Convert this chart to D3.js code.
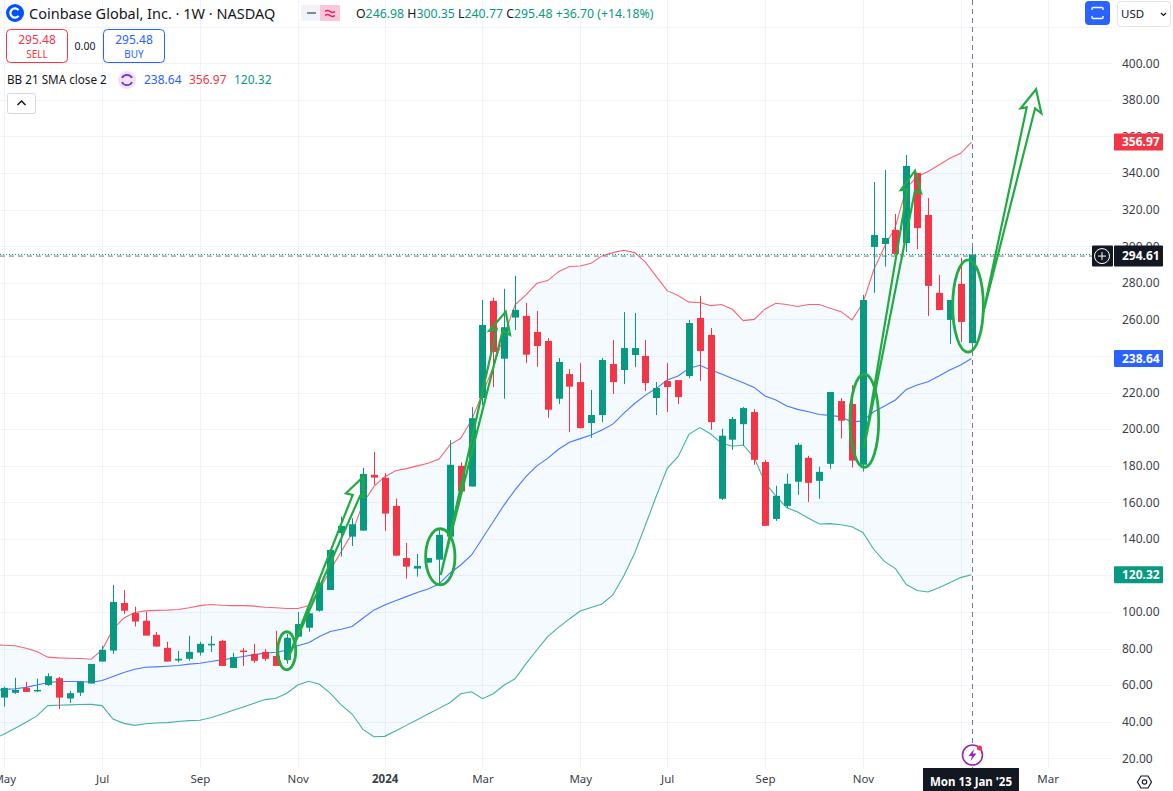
<!DOCTYPE html>
<html>
<head>
<meta charset="utf-8">
<script src="https://cdn.jsdelivr.net/npm/d3@7/dist/d3.min.js"></script>
<style>
  html, body { margin: 0; padding: 0; background: #fff; overflow: hidden; }
  svg { display: block; font-family: "Noto Sans", sans-serif; }
</style>
</head>
<body>
<svg id="chart" width="1173" height="791"></svg>
<script>
// weekly candles, first entry is the week of 24 Apr 2023 (just off the left edge)
const opens = [56, 53.2, 55.8, 58.5, 56.8, 60.1, 63.8, 52.7, 55.9, 60.9, 72.9, 78.9, 104.9, 99.4, 95.2, 87.5, 80.4, 73.5, 74.4, 77.8, 82.2, 84.2, 69.4, 78.9, 77.1, 78.2, 76, 73.8, 86.5, 91.4, 100.7, 112, 143.1, 141.2, 144.5, 175, 173.4, 158, 129.5, 123.7, 127, 128.6, 141.2, 179.9, 168.6, 217, 270.1, 238.5, 261, 261.9, 253.1, 248.2, 216.6, 230.1, 225.7, 203.3, 207.7, 235.6, 232.3, 240.5, 240, 217, 226.3, 226.8, 229, 260.8, 251.5, 161.9, 194.2, 202.7, 209.3, 182, 150.9, 158, 171.2, 184.3, 171.7, 181, 215.3, 213.7, 180.5, 299.6, 301.2, 308.9, 301.7, 340.1, 317.1, 274.5, 259.7, 279.4, 246.98];
const highs = [60, 59.2, 64, 61.8, 63.6, 66.5, 64.5, 56.8, 62.3, 71.6, 81.5, 114.8, 112, 102.9, 100.2, 89.1, 83.7, 78.7, 87, 83.7, 87, 84.8, 77.7, 80.4, 82.6, 79.8, 89.7, 88.1, 100, 99.3, 117.5, 133.9, 152.2, 151.3, 178.8, 187.6, 175.9, 162, 137.8, 131.7, 129.5, 145.3, 194, 181.8, 212, 270.6, 271.9, 276.7, 283.8, 269, 264.6, 249.8, 238.9, 232.8, 236.1, 221.4, 238.9, 248.7, 264, 263.5, 248.7, 225.7, 236.1, 226.8, 259.7, 272.8, 255.3, 200.2, 206.6, 212.1, 210.9, 183.2, 169, 175.6, 192.5, 185.4, 179.4, 220.3, 217, 224.1, 273.4, 335.1, 341.7, 317.6, 349.9, 340.1, 326.3, 284.3, 270.6, 293.6, 300.35];
const lows = [52, 48.3, 55.2, 56.3, 56.3, 59.6, 47, 50.3, 54.1, 60.9, 72.9, 77.1, 98.9, 92.1, 87.1, 81.1, 72.9, 72.4, 73.3, 76.2, 78.2, 70.5, 69.4, 70.5, 72.2, 73.3, 70.5, 71.7, 86.5, 89.2, 100.2, 112, 130.3, 136.1, 144.5, 169.5, 144.3, 130.8, 118.2, 119.3, 127, 115.7, 141.2, 165.9, 168.6, 213.1, 223, 216.6, 254.2, 236.1, 234.1, 206.2, 213.7, 198.4, 200.5, 195.2, 203.8, 219.2, 224.6, 233.9, 220.8, 207.7, 209.3, 213.7, 227.9, 226.3, 199.6, 161.3, 188.7, 190.9, 180.5, 147.1, 149.8, 156.9, 164.1, 160.2, 161.9, 178.3, 194.9, 179, 176.8, 274.5, 288.9, 295.8, 296.9, 298.4, 261.9, 265.1, 246.5, 247.6, 240.77];
const closes = [53, 58.5, 57.4, 56.3, 57.4, 64.9, 53.2, 55.6, 61.8, 71.6, 79.3, 105.5, 100.7, 94.8, 87.1, 81.1, 72.9, 74.4, 78.2, 82.6, 82.6, 70.5, 75.3, 78.4, 73.3, 74.4, 70.5, 85.9, 93.4, 99.3, 115.7, 133.9, 147.1, 148, 175.5, 173.5, 153.8, 130.8, 124.8, 125.2, 129.5, 142.2, 180.5, 165.9, 206, 256.9, 242.2, 255.7, 265.2, 240.7, 245.4, 210.6, 236.7, 223.2, 200.5, 207.7, 237.8, 225.7, 244.3, 244.3, 225.2, 222.5, 223, 217.5, 258, 242.7, 203.8, 196.4, 205.5, 211.5, 183.2, 147.1, 163.5, 170.1, 191.4, 170.6, 176.6, 220.3, 204.6, 182.8, 270.6, 306.1, 304.5, 295.8, 343.9, 309.9, 278.3, 265.1, 270.6, 258.6, 295.48];

// Bollinger bands, same weeks
const bbUpper = [82, 81.8, 81.5, 80.2, 78.4, 75.3, 74.9, 74.7, 74.6, 74.2, 79.3, 90.6, 96.7, 99.7, 100.6, 100.9, 101, 101.4, 102.3, 103.5, 104.1, 103.7, 103.5, 103.5, 103.2, 102.6, 102.3, 101.9, 101.9, 103.4, 112, 123, 133, 143, 159.5, 168.5, 174, 177.2, 178.4, 179.9, 181.3, 183.6, 191.4, 195, 205, 219.5, 234.1, 251.4, 267.9, 273.4, 279.7, 281.2, 286.1, 288.9, 289.2, 290.7, 294.7, 296.5, 297.8, 296.5, 291.3, 283.4, 275.7, 273, 269.4, 269.2, 267.5, 268.1, 265.5, 259.3, 260, 265.7, 268.8, 268.1, 267, 268.1, 268.1, 266.1, 264.2, 259.7, 268.8, 287, 299.8, 310.7, 331.7, 338.1, 340.8, 344.4, 348.1, 350.8, 356.97];
const bbMiddle = [56.9, 57.7, 58, 58.8, 60.1, 61.4, 62, 62, 62, 61.6, 62.5, 64.7, 66.9, 68.7, 69.8, 70, 70.3, 70.7, 71.5, 72, 72.9, 73.8, 74.7, 75.7, 76.7, 77.5, 78, 79.1, 81.5, 83.2, 86.6, 89.3, 90.6, 92.1, 96.6, 101, 103.8, 106.2, 108.4, 110.6, 112.6, 115.3, 121.2, 125.7, 131.2, 140.3, 149.5, 158.6, 166.8, 174, 179.9, 184, 189, 192.8, 194.8, 196.8, 199.5, 202.7, 208.6, 214, 218.6, 222.3, 226.8, 229, 233.2, 234.9, 232.3, 230.1, 227.7, 225.4, 222.8, 218.1, 215.9, 212.6, 210.8, 209.5, 208, 207.5, 206.7, 203.8, 204.5, 209.5, 212.6, 215.9, 221.7, 224.1, 225.9, 229, 232.3, 235, 238.64];
const bbLower = [30.5, 33.3, 36.4, 39.7, 43.2, 48.8, 49, 49.2, 49.4, 49.5, 48.8, 41.5, 39.1, 38, 38.9, 39.3, 39.5, 40.1, 40.6, 40.8, 42.2, 44.1, 46.1, 48.1, 50.1, 52.1, 52.8, 55.6, 60.1, 62.1, 60.5, 55.5, 49.2, 44.2, 35.8, 31.8, 32, 34.9, 38, 41.1, 44.2, 47.3, 50.4, 55.3, 56.4, 52.6, 55.3, 60.1, 63.5, 71.6, 79.2, 86.5, 91.6, 96.2, 100.5, 102.4, 104.4, 109.3, 119.7, 132.1, 147.6, 163.4, 178.5, 184.9, 197.1, 200.8, 197.3, 192.2, 190.6, 191.3, 184.4, 170.7, 163.4, 157, 154.7, 151.2, 148.1, 148.3, 147.7, 146.6, 143.5, 134.3, 127.5, 123.7, 115, 111.7, 110.9, 113.3, 116, 118.8, 120.32];

const firstWeek = "2023-04-24";
const crosshairWeek = "2025-01-13";

const timeTickDates = ["2023-05-01", "2023-07-03", "2023-09-04", "2023-11-06", "2024-01-01", "2024-03-04", "2024-05-06", "2024-07-01", "2024-09-02", "2024-11-04", "2025-01-06", "2025-03-03"];
const timeTickLabels = ["May", "Jul", "Sep", "Nov", "2024", "Mar", "May", "Jul", "Sep", "Nov", "2025", "Mar"];
const boldTickLabels = ["2024", "2025"];
const priceTicks = [20, 40, 60, 80, 100, 120, 140, 160, 180, 200, 220, 240, 260, 280, 300, 320, 340, 360, 380, 400];
const gridOnlyPrices = [420];

const lastPrice = 295.48;
const crosshairPrice = 294.61;

// hand drawn marks, as [week number, price]
const arrowOne = [[27.01, 73.2], [33.06, 164], [32.44, 164.9], [34.04, 174], [34.04, 162.9], [33.73, 163.4]];
const arrowTwo = [[41.16, 120.2], [46.31, 254.7], [45.63, 253.8], [47.14, 264.2], [47.54, 251.5], [46.86, 253.8]];
const arrowThree = [[80.11, 189.5], [84.1, 331.1], [83.49, 330.7], [84.8, 341.3], [85.36, 328.9], [84.8, 330.4]];
const arrowFour = [[91.03, 262.4], [95.08, 375.9], [94.53, 375.4], [95.94, 385.8], [96.43, 372.7], [95.85, 375.4]];
// week, price, week radius, price radius
const circledWeeks = [[26.99, 78.8, 0.83, 10.4], [41.12, 130.2, 1.35, 15.3], [80.14, 204.6, 1.32, 25.5], [89.68, 267.3, 1.41, 25.2]];

const UP = "#089981", DOWN = "#F23645", BLUE = "#2962FF", INK = "#131722", AXIS = "#3b3f4a", GRID = "#f0f3fa", MARK = "#22ab44";

const svg = d3.select("#chart");
const DAY = 864e5;
const weekOf = s => (Date.parse(s + "T00:00:00Z") - Date.parse(firstWeek + "T00:00:00Z")) / (7 * DAY);

// week 1 sits on the May gridline, week 90 on the last candle
const x = d3.scaleLinear().domain([1, 90]).range([4.3, 971.5]);
const y = d3.scaleLinear().domain([20, 420]).range([758.3, 26.74]);

const timeTicks = timeTickDates.map(weekOf);

// Grid
const grid = svg.append("g").attr("stroke", GRID).attr("stroke-width", 1);
priceTicks.concat(gridOnlyPrices).forEach(p => {
  const py = Math.round(y(p)) + 0.5;
  grid.append("line").attr("x1", 0).attr("x2", 1112).attr("y1", py).attr("y2", py);
});
timeTicks.forEach(w => {
  const px = Math.round(x(w)) + 0.5;
  grid.append("line").attr("x1", px).attr("x2", px).attr("y1", 0).attr("y2", 768);
});

// Bands
const weeks = d3.range(bbUpper.length);
svg.append("path").datum(weeks)
  .attr("d", d3.area().x(i => x(i)).y0(i => y(bbLower[i])).y1(i => y(bbUpper[i])))
  .attr("fill", "#2196f3").attr("fill-opacity", 0.05);
[[bbUpper, DOWN], [bbMiddle, BLUE], [bbLower, UP]].forEach(([vals, color]) => {
  svg.append("path").datum(weeks)
    .attr("d", d3.line().x(i => x(i)).y(i => y(vals[i])))
    .attr("fill", "none").attr("stroke", color).attr("stroke-width", 1.1)
    .attr("stroke-opacity", color === BLUE ? 0.85 : 0.75);
});

// Candles
const candles = svg.append("g");
weeks.forEach(i => {
  const color = closes[i] >= opens[i] ? UP : DOWN;
  const cx = Math.round(x(i));
  const top = y(Math.max(opens[i], closes[i]));
  const bottom = y(Math.min(opens[i], closes[i]));
  candles.append("rect").attr("x", cx).attr("width", 1)
    .attr("y", y(highs[i])).attr("height", y(lows[i]) - y(highs[i])).attr("fill", color);
  candles.append("rect").attr("x", cx - 3).attr("width", 7)
    .attr("y", top).attr("height", Math.max(1.5, bottom - top)).attr("fill", color);
});

// Crosshair and last price line
const crossX = Math.round(x(weekOf(crosshairWeek))) + 0.5;
svg.append("line").attr("x1", crossX).attr("x2", crossX).attr("y1", 0).attr("y2", 768)
  .attr("stroke", "#787b86").attr("stroke-dasharray", "5 4");
svg.append("line").attr("x1", 0).attr("x2", 1092).attr("y1", y(crosshairPrice)).attr("y2", y(crosshairPrice))
  .attr("stroke", "#787b86").attr("stroke-dasharray", "5 4");
svg.append("line").attr("x1", 0).attr("x2", 1112).attr("y1", y(lastPrice)).attr("y2", y(lastPrice))
  .attr("stroke", UP).attr("stroke-dasharray", "1 2");

// Drawings
const marks = svg.append("g").attr("fill", "none").attr("stroke", MARK).attr("stroke-linejoin", "miter");
[arrowOne, arrowTwo, arrowThree, arrowFour].forEach(pts => {
  marks.append("path")
    .attr("d", d3.line().x(d => x(d[0])).y(d => y(d[1]))(pts) + "Z")
    .attr("stroke-width", 2.2);
});
circledWeeks.forEach(([w, p, rw, rp]) => {
  marks.append("ellipse")
    .attr("cx", x(w)).attr("cy", y(p))
    .attr("rx", x(w + rw) - x(w)).attr("ry", y(p - rp) - y(p))
    .attr("stroke-width", 2.8);
});

// Price axis
const priceAxis = d3.axisRight(y).tickValues(priceTicks).tickSize(0).tickPadding(6).tickFormat(d3.format(".2f"));
const pg = svg.append("g").attr("transform", "translate(1116,0)").call(priceAxis);
pg.select(".domain").remove();
pg.selectAll("text").attr("fill", AXIS).style("font-size", "12px").style("font-family", '"Noto Sans", sans-serif');

// Time axis
const timeAxis = d3.axisBottom(x).tickValues(timeTicks).tickSize(0).tickPadding(0)
  .tickFormat((d, i) => timeTickLabels[i]);
const tg = svg.append("g").attr("transform", "translate(0,775)").call(timeAxis);
tg.select(".domain").remove();
tg.selectAll("text").attr("fill", AXIS)
  .style("font-size", "11.5px").style("font-family", '"Noto Sans", sans-serif')
  .style("font-weight", (d, i) => boldTickLabels.includes(timeTickLabels[i]) ? 700 : 400);

// Price tags on the axis
function priceTag(value, fill, tagH) {
  const cy = y(value);
  const g = svg.append("g");
  g.append("rect").attr("x", 1114).attr("y", cy - tagH / 2).attr("width", 49).attr("height", tagH).attr("rx", 1).attr("fill", fill);
  g.append("text").attr("x", 1122).attr("y", cy + 4.3).attr("fill", "#fff")
    .style("font-size", "12px").style("font-weight", 700).text(value.toFixed(2));
}
priceTag(bbUpper[bbUpper.length - 1], DOWN, 17);
priceTag(bbMiddle[bbMiddle.length - 1], BLUE, 17);
priceTag(bbLower[bbLower.length - 1], UP, 17);
priceTag(crosshairPrice, INK, 21);
const plus = svg.append("g").attr("transform", `translate(1102,${y(crosshairPrice)})`);
plus.append("rect").attr("x", -10).attr("y", -10.5).attr("width", 21).attr("height", 21).attr("rx", 1).attr("fill", INK);
plus.append("circle").attr("r", 7.5).attr("fill", "none").attr("stroke", "#fff");
plus.append("path").attr("d", "M-4 0H4M0 -4V4").attr("stroke", "#fff");

// Crosshair date label
svg.append("rect").attr("x", 923).attr("y", 768).attr("width", 96).attr("height", 23).attr("fill", INK);
svg.append("text").attr("x", 971).attr("y", 786).attr("text-anchor", "middle").attr("fill", "#fff")
  .style("font-size", "11.5px").style("font-weight", 700).text("Mon 13 Jan '25");

// Lightning badge on the time axis
const bolt = svg.append("g").attr("transform", `translate(${crossX},755)`);
bolt.append("circle").attr("r", 12).attr("fill", "#fff");
bolt.append("circle").attr("r", 10).attr("fill", "none").attr("stroke", "#9c27b0").attr("stroke-width", 1.6);
bolt.append("path").attr("d", "M1.5 -6L-4 1H-0.5L-2 6L4 -1.5H0.5Z").attr("fill", "#9c27b0");
bolt.append("circle").attr("cx", 7).attr("cy", -7).attr("r", 2.5).attr("fill", DOWN);

// Settings hexagon
const gear = svg.append("g").attr("transform", "translate(1144.5,782)").attr("fill", "none").attr("stroke", INK).attr("stroke-width", 1.2);
gear.append("path").attr("d", "M-7 0L-3.5 -6H3.5L7 0L3.5 6H-3.5Z");
gear.append("circle").attr("r", 2.2);

// Header
svg.append("circle").attr("cx", 15).attr("cy", 13).attr("r", 9).attr("fill", "#0052ff");
svg.append("path").attr("d", "M18.6 10.2A4.6 4.6 0 1 0 18.6 15.8").attr("fill", "none").attr("stroke", "#fff").attr("stroke-width", 2.2);
svg.append("text").attr("x", 29).attr("y", 19).attr("fill", INK).style("font-size", "14.5px").text("Coinbase Global, Inc. · 1W · NASDAQ");

svg.append("rect").attr("x", 301).attr("y", 5).attr("width", 20).attr("height", 16).attr("fill", "#f0f3fa");
svg.append("rect").attr("x", 320).attr("y", 5).attr("width", 20).attr("height", 16).attr("fill", "#f8c8d8");
svg.append("path").attr("d", "M307 13H316").attr("stroke", "#868993").attr("stroke-width", 2);
svg.append("path").attr("d", "M325 11.5Q327.5 9.5 330 11.5T335 11.5M325 15.5Q327.5 13.5 330 15.5T335 15.5").attr("fill", "none").attr("stroke", "#e91e63").attr("stroke-width", 1.5);

const ohlc = svg.append("text").attr("x", 356).attr("y", 18).attr("fill", UP).style("font-size", "12.3px");
[["O", INK], ["246.98", UP], [" H", INK], ["300.35", UP], [" L", INK], ["240.77", UP], [" C", INK], ["295.48", UP], [" +36.70 (+14.18%)", UP]].forEach(([t, c]) => {
  ohlc.append("tspan").attr("fill", c).attr("xml:space", "preserve").text(t);
});

function tradeBox(bx, label, color) {
  svg.append("rect").attr("x", bx + 0.5).attr("y", 29.5).attr("width", 61).attr("height", 33).attr("rx", 4)
    .attr("fill", "#fff").attr("stroke", color);
  svg.append("text").attr("x", bx + 31).attr("y", 44).attr("text-anchor", "middle").attr("fill", color)
    .style("font-size", "12px").text("295.48");
  svg.append("text").attr("x", bx + 31).attr("y", 58).attr("text-anchor", "middle").attr("fill", color)
    .style("font-size", "10px").text(label);
}
tradeBox(6, "SELL", DOWN);
tradeBox(103, "BUY", BLUE);
svg.append("text").attr("x", 85).attr("y", 50).attr("text-anchor", "middle").attr("fill", INK).style("font-size", "10.5px").text("0.00");

svg.append("text").attr("x", 7).attr("y", 84).attr("fill", INK).style("font-size", "11.7px").text("BB 21 SMA close 2");
svg.append("circle").attr("cx", 127).attr("cy", 80).attr("r", 9).attr("fill", "#ede3f7");
svg.append("path").attr("d", "M122 78A5.5 5.5 0 0 1 132 78M132 82A5.5 5.5 0 0 1 122 82").attr("fill", "none").attr("stroke", "#7b2fd0").attr("stroke-width", 1.8);
[["238.64", 144, BLUE], ["356.97", 189, DOWN], ["120.32", 234, UP]].forEach(([t, tx, c]) => {
  svg.append("text").attr("x", tx).attr("y", 84).attr("fill", c).style("font-size", "12px").text(t);
});

svg.append("rect").attr("x", 7.5).attr("y", 93.5).attr("width", 28).attr("height", 20).attr("rx", 2).attr("fill", "#fff").attr("stroke", "#d6d8de");
svg.append("path").attr("d", "M17.5 105L21.5 101L25.5 105").attr("fill", "none").attr("stroke", INK).attr("stroke-width", 1.5);

svg.append("rect").attr("x", 1085).attr("y", 1).attr("width", 25).attr("height", 24).attr("rx", 4).attr("fill", BLUE);
svg.append("path").attr("d", "M1092 10V8.5Q1092 7.5 1093 7.5H1102Q1103 7.5 1103 8.5V10M1092 16V17.5Q1092 18.5 1093 18.5H1102Q1103 18.5 1103 17.5V16").attr("fill", "none").attr("stroke", "#fff").attr("stroke-width", 1.4);
svg.append("rect").attr("x", 1117.5).attr("y", 1.5).attr("width", 53).attr("height", 25).attr("rx", 3).attr("fill", "#fff").attr("stroke", "#e0e3eb");
svg.append("text").attr("x", 1121).attr("y", 18).attr("fill", INK).style("font-size", "11.5px").text("USD");
svg.append("path").attr("d", "M1161 13L1163.5 15.5L1166 13").attr("fill", "none").attr("stroke", INK).attr("stroke-width", 1.2);
</script>
</body>
</html>
